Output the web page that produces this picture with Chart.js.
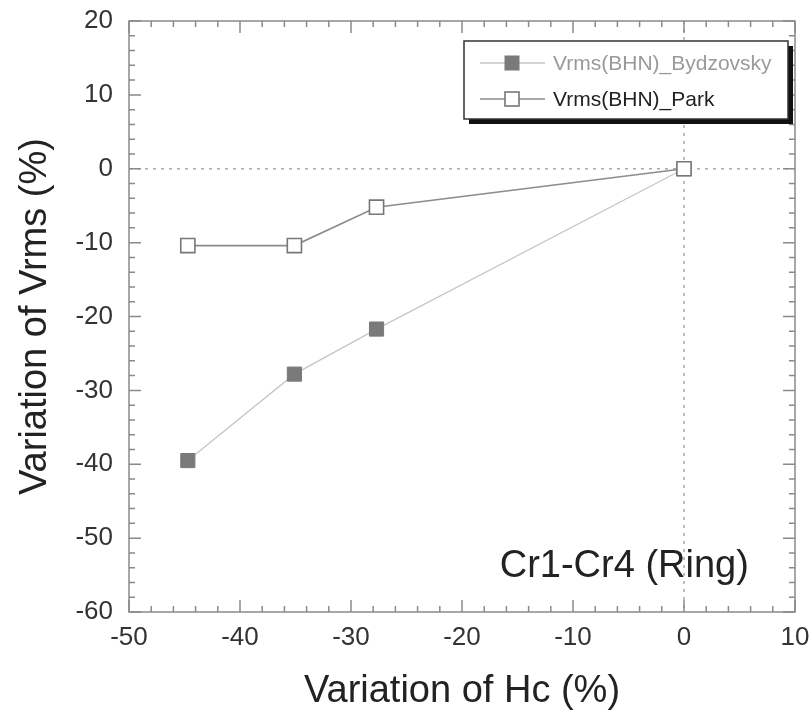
<!DOCTYPE html>
<html>
<head>
<meta charset="utf-8">
<script src="https://cdn.jsdelivr.net/npm/chart.js@4/dist/chart.umd.min.js"></script>
<style>
  html, body { margin: 0; padding: 0; background: #ffffff; }
  #wrap { width: 811px; height: 715px; }
</style>
</head>
<body>
<div id="wrap"><canvas id="c" width="811" height="715"></canvas></div>
<script>
// Coercivity change (%) and the resulting change of Vrms (%) for each model
const hcVariation    = [-44.7, -35.1, -27.7, 0];
const vrmsBydzovsky  = [-39.5, -27.8, -21.7, 0];
const vrmsPark       = [-10.4, -10.4, -5.2, 0];
const seriesNames    = ['Vrms(BHN)_Bydzovsky', 'Vrms(BHN)_Park'];
const xTickValues    = [-50, -40, -30, -20, -10, 0, 10];
const yTickValues    = [-60, -50, -40, -30, -20, -10, 0, 10, 20];
const xAxisTitle     = 'Variation of Hc (%)';
const yAxisTitle     = 'Variation of Vrms (%)';
const sampleLabel    = 'Cr1-Cr4 (Ring)';

const FONT = "'Liberation Sans', Arial, Helvetica, sans-serif";

const toPoints = ys => hcVariation.map((x, i) => ({ x, y: ys[i] }));

// Zero reference lines, boxed frame with inward ticks, legend box and sample label
const framePlugin = {
  id: 'frame',
  beforeDatasetsDraw(chart) {
    const { ctx, chartArea: a, scales: { x, y } } = chart;
    const x0 = x.getPixelForValue(0), y0 = y.getPixelForValue(0);
    ctx.save();
    ctx.strokeStyle = '#a8a8a8';
    ctx.lineWidth = 1.5;
    ctx.setLineDash([3, 5]);
    ctx.beginPath();
    ctx.moveTo(a.left, y0); ctx.lineTo(a.right, y0);
    ctx.moveTo(x0, a.top); ctx.lineTo(x0, a.bottom);
    ctx.stroke();
    ctx.restore();
  },
  afterDatasetsDraw(chart) {
    const { ctx, chartArea: a, scales: { x, y } } = chart;
    ctx.save();
    ctx.strokeStyle = '#8a8a8a';
    ctx.lineWidth = 1.5;
    ctx.strokeRect(a.left, a.top, a.right - a.left, a.bottom - a.top);
    ctx.beginPath();
    const major = 12, minor = 6;
    for (let v = x.min; v <= x.max + 1e-9; v += 2) {
      const px = x.getPixelForValue(v);
      const len = (Math.round(v) % 10 === 0) ? major : minor;
      ctx.moveTo(px, a.bottom); ctx.lineTo(px, a.bottom - len);
      ctx.moveTo(px, a.top); ctx.lineTo(px, a.top + len);
    }
    for (let v = y.min; v <= y.max + 1e-9; v += 2) {
      const py = y.getPixelForValue(v);
      const len = (Math.round(v) % 10 === 0) ? major : minor;
      ctx.moveTo(a.left, py); ctx.lineTo(a.left + len, py);
      ctx.moveTo(a.right, py); ctx.lineTo(a.right - len, py);
    }
    ctx.stroke();
    ctx.restore();
  },
  afterDraw(chart) {
    const { ctx, chartArea: a, scales: { x, y } } = chart;
    ctx.save();

    // legend box with a solid drop shadow
    const bw = 324, bh = 78;
    const bx = a.right - 7 - bw, by = a.top + 20;
    ctx.fillStyle = '#111';
    ctx.fillRect(bx + 5, by + 5, bw, bh);
    ctx.fillStyle = '#fff';
    ctx.fillRect(bx, by, bw, bh);
    ctx.strokeStyle = '#333';
    ctx.lineWidth = 1.5;
    ctx.strokeRect(bx, by, bw, bh);

    const rows = [
      { ds: chart.data.datasets.find(d => d.label === seriesNames[0]), color: '#9a9a9a', cy: by + 22 },
      { ds: chart.data.datasets.find(d => d.label === seriesNames[1]), color: '#222', cy: by + 58 }
    ];
    ctx.font = `21px ${FONT}`;
    ctx.textBaseline = 'middle';
    ctx.textAlign = 'left';
    rows.forEach(r => {
      ctx.strokeStyle = r.ds.borderColor;
      ctx.lineWidth = r.ds.borderWidth;
      ctx.beginPath();
      ctx.moveTo(bx + 16, r.cy); ctx.lineTo(bx + 81, r.cy);
      ctx.stroke();
      const s = 14, mx = bx + 48;
      ctx.fillStyle = r.ds.pointBackgroundColor;
      ctx.fillRect(mx - s / 2, r.cy - s / 2, s, s);
      ctx.strokeStyle = r.ds.pointBorderColor;
      ctx.lineWidth = r.ds.pointBorderWidth;
      ctx.strokeRect(mx - s / 2, r.cy - s / 2, s, s);
      ctx.fillStyle = r.color;
      ctx.fillText(r.ds.label, bx + 89, r.cy + 1);
    });

    // sample label inside the plot
    ctx.font = `38px ${FONT}`;
    ctx.fillStyle = '#222';
    ctx.textBaseline = 'alphabetic';
    ctx.fillText(sampleLabel, x.getPixelForValue(-16.6), y.getPixelForValue(-55.2));
    ctx.restore();
  }
};

new Chart(document.getElementById('c'), {
  type: 'scatter',
  data: {
    datasets: [
      {
        label: seriesNames[0],
        data: toPoints(vrmsBydzovsky),
        showLine: true,
        order: 2,
        borderColor: '#c6c6c6',
        borderWidth: 1.3,
        pointStyle: 'rect',
        pointRadius: 10,
        pointHoverRadius: 10,
        pointBackgroundColor: '#7a7a7a',
        pointBorderColor: '#7a7a7a',
        pointBorderWidth: 1
      },
      {
        label: seriesNames[1],
        data: toPoints(vrmsPark),
        showLine: true,
        order: 1,
        borderColor: '#8c8c8c',
        borderWidth: 1.6,
        pointStyle: 'rect',
        pointRadius: 10,
        pointHoverRadius: 10,
        pointBackgroundColor: '#ffffff',
        pointBorderColor: '#777777',
        pointBorderWidth: 1.6
      }
    ]
  },
  options: {
    responsive: false,
    animation: false,
    devicePixelRatio: 1,
    layout: { padding: { top: 21, right: 16, left: 0, bottom: 0 } },
    plugins: { legend: { display: false }, tooltip: { enabled: false } },
    scales: {
      x: {
        type: 'linear',
        min: -50, max: 10,
        afterBuildTicks: s => { s.ticks = xTickValues.map(v => ({ value: v })); },
        afterFit: s => { s.height = 103; },
        grid: { display: false, drawTicks: true, tickLength: 10 },
        border: { display: false },
        ticks: { padding: 0, color: '#333', font: { family: FONT, size: 26 } },
        title: {
          display: true, text: xAxisTitle, color: '#222',
          font: { family: FONT, size: 38, lineHeight: 1.2 },
          padding: { top: 0, bottom: 1 }
        }
      },
      y: {
        type: 'linear',
        min: -60, max: 20,
        afterBuildTicks: s => { s.ticks = yTickValues.map(v => ({ value: v })); },
        afterFit: s => { s.width = 129; },
        grid: { display: false, drawTicks: true, tickLength: 16 },
        border: { display: false },
        ticks: { padding: 0, color: '#333', font: { family: FONT, size: 26 } },
        title: {
          display: true, text: yAxisTitle, color: '#222',
          font: { family: FONT, size: 38, lineHeight: 1.2 },
          padding: { top: 13, bottom: 0 }
        }
      }
    }
  },
  plugins: [framePlugin]
});
</script>
</body>
</html>
